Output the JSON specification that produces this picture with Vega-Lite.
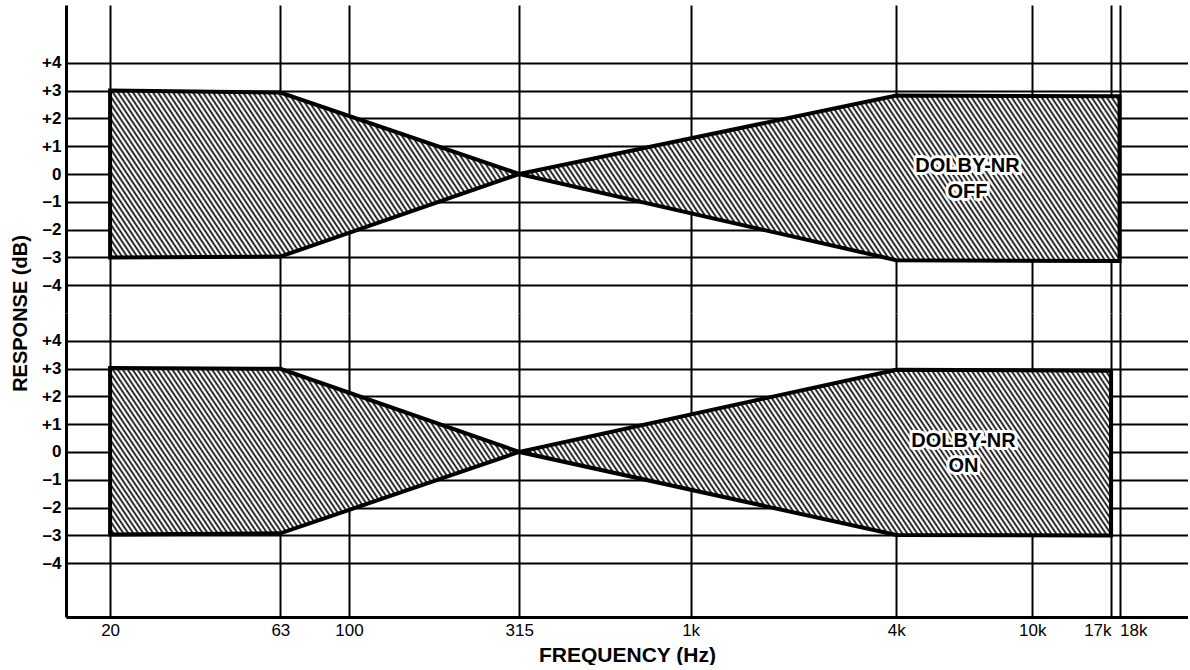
{
  "$schema": "https://vega.github.io/schema/vega-lite/v6.json",
  "padding": {"left": 10, "top": 5, "right": 0, "bottom": 0},
  "background": "white",
  "spacing": 0,
  "bounds": "flush",
  "datasets": {
    "off": [
      {"f": 20, "hi": 3.0, "lo": -3.0},
      {"f": 63, "hi": 2.93, "lo": -2.97},
      {"f": 315, "hi": 0, "lo": 0},
      {"f": 4000, "hi": 2.82, "lo": -3.1},
      {"f": 18000, "hi": 2.8, "lo": -3.13}
    ],
    "on": [
      {"f": 20, "hi": 3.02, "lo": -2.97},
      {"f": 63, "hi": 2.99, "lo": -2.93},
      {"f": 315, "hi": 0, "lo": 0},
      {"f": 4000, "hi": 2.96, "lo": -2.99},
      {"f": 17000, "hi": 2.92, "lo": -3.01}
    ],
    "offText": [
      {"f": 6460, "db": 0.29, "t": "DOLBY-NR"},
      {"f": 6460, "db": -0.63, "t": "OFF"}
    ],
    "onText": [
      {"f": 6290, "db": 0.38, "t": "DOLBY-NR"},
      {"f": 6290, "db": -0.52, "t": "ON"}
    ]
  },
  "vconcat": [
    {
      "width": 1122,
      "height": 308,
      "layer": [
        {
          "data": {"name": "off"},
          "mark": {"type": "area"},
          "encoding": {
            "x": {"field": "f", "type": "quantitative",
              "scale": {"type": "log", "domain": [14.86, 28550], "nice": false},
              "axis": {"values": [20, 63, 100, 315, 1000, 4000, 10000, 17000, 18000], "labels": false, "ticks": false, "domain": false, "title": null}},
            "y": {"field": "hi", "type": "quantitative",
              "scale": {"domain": [-5, 6.08], "nice": false, "zero": false},
              "axis": {"values": [-4, -3, -2, -1, 0, 1, 2, 3, 4],
                "labelExpr": "datum.value > 0 ? '+' + datum.value : (datum.value < 0 ? '\u2013' + abs(datum.value) : '0')",
                "title": "RESPONSE (dB)", "titleX": -46, "titleY": 308, "titleAngle": -90, "titleAlign": "center", "titleBaseline": "middle", "titleFontSize": 20}},
            "y2": {"field": "lo"}
          }
        },
        {
          "data": {"name": "offText"},
          "mark": {"type": "text", "fill": "white", "stroke": "white", "strokeWidth": 6, "strokeJoin": "round", "font": "Liberation Sans", "fontSize": 20, "fontWeight": "bold", "baseline": "middle"},
          "encoding": {
            "x": {"field": "f", "type": "quantitative",
              "axis": {"values": [20, 63, 100, 315, 1000, 4000, 10000, 17000, 18000], "labels": false, "ticks": false, "domain": false, "title": null}},
            "y": {"field": "db", "type": "quantitative",
              "axis": {"values": [-4, -3, -2, -1, 0, 1, 2, 3, 4],
                "labelExpr": "datum.value > 0 ? '+' + datum.value : (datum.value < 0 ? '\u2013' + abs(datum.value) : '0')",
                "title": "RESPONSE (dB)", "titleX": -46, "titleY": 308, "titleAngle": -90, "titleAlign": "center", "titleBaseline": "middle", "titleFontSize": 20}},
            "text": {"field": "t"}
          }
        },
        {
          "data": {"name": "offText"},
          "mark": {"type": "text", "fill": "black", "font": "Liberation Sans", "fontSize": 20, "fontWeight": "bold", "baseline": "middle"},
          "encoding": {
            "x": {"field": "f", "type": "quantitative",
              "axis": {"values": [20, 63, 100, 315, 1000, 4000, 10000, 17000, 18000], "labels": false, "ticks": false, "domain": false, "title": null}},
            "y": {"field": "db", "type": "quantitative",
              "axis": {"values": [-4, -3, -2, -1, 0, 1, 2, 3, 4],
                "labelExpr": "datum.value > 0 ? '+' + datum.value : (datum.value < 0 ? '\u2013' + abs(datum.value) : '0')",
                "title": "RESPONSE (dB)", "titleX": -46, "titleY": 308, "titleAngle": -90, "titleAlign": "center", "titleBaseline": "middle", "titleFontSize": 20}},
            "text": {"field": "t"}
          }
        }
      ]
    },
    {
      "width": 1122,
      "height": 304,
      "layer": [
        {
          "data": {"name": "on"},
          "mark": {"type": "area"},
          "encoding": {
            "x": {"field": "f", "type": "quantitative",
              "scale": {"type": "log", "domain": [14.86, 28550], "nice": false},
              "axis": {"values": [20, 63, 100, 315, 1000, 4000, 10000, 17000, 18000],
                "labelExpr": "datum.value >= 1000 ? (datum.value / 1000) + 'k' : datum.value + ''",
                "labelAlign": {"condition": [{"test": "datum.value == 17000", "value": "right"}, {"test": "datum.value == 18000", "value": "left"}], "value": "center"},
                "labelFlush": false, "labelBound": false,
                "labelPadding": 5, "labelFontWeight": "normal",
                "title": "FREQUENCY (Hz)", "titlePadding": 6, "titleFontSize": 21}},
            "y": {"field": "hi", "type": "quantitative",
              "scale": {"domain": [-5.94, 5], "nice": false, "zero": false},
              "axis": {"values": [-4, -3, -2, -1, 0, 1, 2, 3, 4],
                "labelExpr": "datum.value > 0 ? '+' + datum.value : (datum.value < 0 ? '\u2013' + abs(datum.value) : '0')",
                "title": null}},
            "y2": {"field": "lo"}
          }
        },
        {
          "data": {"name": "onText"},
          "mark": {"type": "text", "fill": "white", "stroke": "white", "strokeWidth": 6, "strokeJoin": "round", "font": "Liberation Sans", "fontSize": 20, "fontWeight": "bold", "baseline": "middle"},
          "encoding": {
            "x": {"field": "f", "type": "quantitative",
              "axis": {"values": [20, 63, 100, 315, 1000, 4000, 10000, 17000, 18000],
                "labelExpr": "datum.value >= 1000 ? (datum.value / 1000) + 'k' : datum.value + ''",
                "labelAlign": {"condition": [{"test": "datum.value == 17000", "value": "right"}, {"test": "datum.value == 18000", "value": "left"}], "value": "center"},
                "labelFlush": false, "labelBound": false,
                "labelPadding": 5, "labelFontWeight": "normal",
                "title": "FREQUENCY (Hz)", "titlePadding": 6, "titleFontSize": 21}},
            "y": {"field": "db", "type": "quantitative",
              "axis": {"values": [-4, -3, -2, -1, 0, 1, 2, 3, 4],
                "labelExpr": "datum.value > 0 ? '+' + datum.value : (datum.value < 0 ? '\u2013' + abs(datum.value) : '0')",
                "title": null}},
            "text": {"field": "t"}
          }
        },
        {
          "data": {"name": "onText"},
          "mark": {"type": "text", "fill": "black", "font": "Liberation Sans", "fontSize": 20, "fontWeight": "bold", "baseline": "middle"},
          "encoding": {
            "x": {"field": "f", "type": "quantitative",
              "axis": {"values": [20, 63, 100, 315, 1000, 4000, 10000, 17000, 18000],
                "labelExpr": "datum.value >= 1000 ? (datum.value / 1000) + 'k' : datum.value + ''",
                "labelAlign": {"condition": [{"test": "datum.value == 17000", "value": "right"}, {"test": "datum.value == 18000", "value": "left"}], "value": "center"},
                "labelFlush": false, "labelBound": false,
                "labelPadding": 5, "labelFontWeight": "normal",
                "title": "FREQUENCY (Hz)", "titlePadding": 6, "titleFontSize": 21}},
            "y": {"field": "db", "type": "quantitative",
              "axis": {"values": [-4, -3, -2, -1, 0, 1, 2, 3, 4],
                "labelExpr": "datum.value > 0 ? '+' + datum.value : (datum.value < 0 ? '\u2013' + abs(datum.value) : '0')",
                "title": null}},
            "text": {"field": "t"}
          }
        }
      ]
    }
  ],
  "resolve": {"scale": {"x": "independent", "y": "independent"}},
  "config": {
    "view": {"stroke": null},
    "axis": {
      "grid": true, "gridColor": "#000", "gridWidth": 2, "gridOpacity": 1,
      "domainColor": "#000", "domainWidth": 3, "ticks": false,
      "labelColor": "#000", "labelFont": "Liberation Sans", "labelFontSize": 17, "labelFontWeight": "bold", "labelPadding": 5,
      "labelOverlap": false,
      "titleFont": "Liberation Sans", "titleColor": "#000", "titleFontWeight": "bold",
      "zindex": 1
    },
    "area": {
      "stroke": "#000", "strokeWidth": 4, "strokeJoin": "miter", "fillOpacity": 1,
      "fill": {"gradient": "linear", "x1": 0, "y1": 1, "x2": 1.2234, "y2": 0.8626, "stops": [
{"offset":0.0000,"color":"#000"},{"offset":0.0016,"color":"#fff"},{"offset":0.0024,"color":"#fff"},{"offset":0.0040,"color":"#000"},{"offset":0.0056,"color":"#fff"},{"offset":0.0064,"color":"#fff"},{"offset":0.0080,"color":"#000"},{"offset":0.0096,"color":"#fff"},{"offset":0.0104,"color":"#fff"},{"offset":0.0120,"color":"#000"},{"offset":0.0136,"color":"#fff"},{"offset":0.0144,"color":"#fff"},{"offset":0.0160,"color":"#000"},{"offset":0.0176,"color":"#fff"},{"offset":0.0184,"color":"#fff"},
{"offset":0.0200,"color":"#000"},{"offset":0.0216,"color":"#fff"},{"offset":0.0224,"color":"#fff"},{"offset":0.0240,"color":"#000"},{"offset":0.0256,"color":"#fff"},{"offset":0.0264,"color":"#fff"},{"offset":0.0280,"color":"#000"},{"offset":0.0296,"color":"#fff"},{"offset":0.0304,"color":"#fff"},{"offset":0.0320,"color":"#000"},{"offset":0.0336,"color":"#fff"},{"offset":0.0344,"color":"#fff"},{"offset":0.0360,"color":"#000"},{"offset":0.0376,"color":"#fff"},{"offset":0.0384,"color":"#fff"},
{"offset":0.0400,"color":"#000"},{"offset":0.0416,"color":"#fff"},{"offset":0.0424,"color":"#fff"},{"offset":0.0440,"color":"#000"},{"offset":0.0456,"color":"#fff"},{"offset":0.0464,"color":"#fff"},{"offset":0.0480,"color":"#000"},{"offset":0.0496,"color":"#fff"},{"offset":0.0504,"color":"#fff"},{"offset":0.0520,"color":"#000"},{"offset":0.0536,"color":"#fff"},{"offset":0.0544,"color":"#fff"},{"offset":0.0560,"color":"#000"},{"offset":0.0576,"color":"#fff"},{"offset":0.0584,"color":"#fff"},
{"offset":0.0600,"color":"#000"},{"offset":0.0616,"color":"#fff"},{"offset":0.0624,"color":"#fff"},{"offset":0.0640,"color":"#000"},{"offset":0.0656,"color":"#fff"},{"offset":0.0664,"color":"#fff"},{"offset":0.0680,"color":"#000"},{"offset":0.0696,"color":"#fff"},{"offset":0.0704,"color":"#fff"},{"offset":0.0720,"color":"#000"},{"offset":0.0736,"color":"#fff"},{"offset":0.0744,"color":"#fff"},{"offset":0.0760,"color":"#000"},{"offset":0.0776,"color":"#fff"},{"offset":0.0784,"color":"#fff"},
{"offset":0.0800,"color":"#000"},{"offset":0.0816,"color":"#fff"},{"offset":0.0824,"color":"#fff"},{"offset":0.0840,"color":"#000"},{"offset":0.0856,"color":"#fff"},{"offset":0.0864,"color":"#fff"},{"offset":0.0880,"color":"#000"},{"offset":0.0896,"color":"#fff"},{"offset":0.0904,"color":"#fff"},{"offset":0.0920,"color":"#000"},{"offset":0.0936,"color":"#fff"},{"offset":0.0944,"color":"#fff"},{"offset":0.0960,"color":"#000"},{"offset":0.0976,"color":"#fff"},{"offset":0.0984,"color":"#fff"},
{"offset":0.1000,"color":"#000"},{"offset":0.1016,"color":"#fff"},{"offset":0.1024,"color":"#fff"},{"offset":0.1040,"color":"#000"},{"offset":0.1056,"color":"#fff"},{"offset":0.1064,"color":"#fff"},{"offset":0.1080,"color":"#000"},{"offset":0.1096,"color":"#fff"},{"offset":0.1104,"color":"#fff"},{"offset":0.1120,"color":"#000"},{"offset":0.1136,"color":"#fff"},{"offset":0.1144,"color":"#fff"},{"offset":0.1160,"color":"#000"},{"offset":0.1176,"color":"#fff"},{"offset":0.1184,"color":"#fff"},
{"offset":0.1200,"color":"#000"},{"offset":0.1216,"color":"#fff"},{"offset":0.1224,"color":"#fff"},{"offset":0.1240,"color":"#000"},{"offset":0.1256,"color":"#fff"},{"offset":0.1264,"color":"#fff"},{"offset":0.1280,"color":"#000"},{"offset":0.1296,"color":"#fff"},{"offset":0.1304,"color":"#fff"},{"offset":0.1320,"color":"#000"},{"offset":0.1336,"color":"#fff"},{"offset":0.1344,"color":"#fff"},{"offset":0.1360,"color":"#000"},{"offset":0.1376,"color":"#fff"},{"offset":0.1384,"color":"#fff"},
{"offset":0.1400,"color":"#000"},{"offset":0.1416,"color":"#fff"},{"offset":0.1424,"color":"#fff"},{"offset":0.1440,"color":"#000"},{"offset":0.1456,"color":"#fff"},{"offset":0.1464,"color":"#fff"},{"offset":0.1480,"color":"#000"},{"offset":0.1496,"color":"#fff"},{"offset":0.1504,"color":"#fff"},{"offset":0.1520,"color":"#000"},{"offset":0.1536,"color":"#fff"},{"offset":0.1544,"color":"#fff"},{"offset":0.1560,"color":"#000"},{"offset":0.1576,"color":"#fff"},{"offset":0.1584,"color":"#fff"},
{"offset":0.1600,"color":"#000"},{"offset":0.1616,"color":"#fff"},{"offset":0.1624,"color":"#fff"},{"offset":0.1640,"color":"#000"},{"offset":0.1656,"color":"#fff"},{"offset":0.1664,"color":"#fff"},{"offset":0.1680,"color":"#000"},{"offset":0.1696,"color":"#fff"},{"offset":0.1704,"color":"#fff"},{"offset":0.1720,"color":"#000"},{"offset":0.1736,"color":"#fff"},{"offset":0.1744,"color":"#fff"},{"offset":0.1760,"color":"#000"},{"offset":0.1776,"color":"#fff"},{"offset":0.1784,"color":"#fff"},
{"offset":0.1800,"color":"#000"},{"offset":0.1816,"color":"#fff"},{"offset":0.1824,"color":"#fff"},{"offset":0.1840,"color":"#000"},{"offset":0.1856,"color":"#fff"},{"offset":0.1864,"color":"#fff"},{"offset":0.1880,"color":"#000"},{"offset":0.1896,"color":"#fff"},{"offset":0.1904,"color":"#fff"},{"offset":0.1920,"color":"#000"},{"offset":0.1936,"color":"#fff"},{"offset":0.1944,"color":"#fff"},{"offset":0.1960,"color":"#000"},{"offset":0.1976,"color":"#fff"},{"offset":0.1984,"color":"#fff"},
{"offset":0.2000,"color":"#000"},{"offset":0.2016,"color":"#fff"},{"offset":0.2024,"color":"#fff"},{"offset":0.2040,"color":"#000"},{"offset":0.2056,"color":"#fff"},{"offset":0.2064,"color":"#fff"},{"offset":0.2080,"color":"#000"},{"offset":0.2096,"color":"#fff"},{"offset":0.2104,"color":"#fff"},{"offset":0.2120,"color":"#000"},{"offset":0.2136,"color":"#fff"},{"offset":0.2144,"color":"#fff"},{"offset":0.2160,"color":"#000"},{"offset":0.2176,"color":"#fff"},{"offset":0.2184,"color":"#fff"},
{"offset":0.2200,"color":"#000"},{"offset":0.2216,"color":"#fff"},{"offset":0.2224,"color":"#fff"},{"offset":0.2240,"color":"#000"},{"offset":0.2256,"color":"#fff"},{"offset":0.2264,"color":"#fff"},{"offset":0.2280,"color":"#000"},{"offset":0.2296,"color":"#fff"},{"offset":0.2304,"color":"#fff"},{"offset":0.2320,"color":"#000"},{"offset":0.2336,"color":"#fff"},{"offset":0.2344,"color":"#fff"},{"offset":0.2360,"color":"#000"},{"offset":0.2376,"color":"#fff"},{"offset":0.2384,"color":"#fff"},
{"offset":0.2400,"color":"#000"},{"offset":0.2416,"color":"#fff"},{"offset":0.2424,"color":"#fff"},{"offset":0.2440,"color":"#000"},{"offset":0.2456,"color":"#fff"},{"offset":0.2464,"color":"#fff"},{"offset":0.2480,"color":"#000"},{"offset":0.2496,"color":"#fff"},{"offset":0.2504,"color":"#fff"},{"offset":0.2520,"color":"#000"},{"offset":0.2536,"color":"#fff"},{"offset":0.2544,"color":"#fff"},{"offset":0.2560,"color":"#000"},{"offset":0.2576,"color":"#fff"},{"offset":0.2584,"color":"#fff"},
{"offset":0.2600,"color":"#000"},{"offset":0.2616,"color":"#fff"},{"offset":0.2624,"color":"#fff"},{"offset":0.2640,"color":"#000"},{"offset":0.2656,"color":"#fff"},{"offset":0.2664,"color":"#fff"},{"offset":0.2680,"color":"#000"},{"offset":0.2696,"color":"#fff"},{"offset":0.2704,"color":"#fff"},{"offset":0.2720,"color":"#000"},{"offset":0.2736,"color":"#fff"},{"offset":0.2744,"color":"#fff"},{"offset":0.2760,"color":"#000"},{"offset":0.2776,"color":"#fff"},{"offset":0.2784,"color":"#fff"},
{"offset":0.2800,"color":"#000"},{"offset":0.2816,"color":"#fff"},{"offset":0.2824,"color":"#fff"},{"offset":0.2840,"color":"#000"},{"offset":0.2856,"color":"#fff"},{"offset":0.2864,"color":"#fff"},{"offset":0.2880,"color":"#000"},{"offset":0.2896,"color":"#fff"},{"offset":0.2904,"color":"#fff"},{"offset":0.2920,"color":"#000"},{"offset":0.2936,"color":"#fff"},{"offset":0.2944,"color":"#fff"},{"offset":0.2960,"color":"#000"},{"offset":0.2976,"color":"#fff"},{"offset":0.2984,"color":"#fff"},
{"offset":0.3000,"color":"#000"},{"offset":0.3016,"color":"#fff"},{"offset":0.3024,"color":"#fff"},{"offset":0.3040,"color":"#000"},{"offset":0.3056,"color":"#fff"},{"offset":0.3064,"color":"#fff"},{"offset":0.3080,"color":"#000"},{"offset":0.3096,"color":"#fff"},{"offset":0.3104,"color":"#fff"},{"offset":0.3120,"color":"#000"},{"offset":0.3136,"color":"#fff"},{"offset":0.3144,"color":"#fff"},{"offset":0.3160,"color":"#000"},{"offset":0.3176,"color":"#fff"},{"offset":0.3184,"color":"#fff"},
{"offset":0.3200,"color":"#000"},{"offset":0.3216,"color":"#fff"},{"offset":0.3224,"color":"#fff"},{"offset":0.3240,"color":"#000"},{"offset":0.3256,"color":"#fff"},{"offset":0.3264,"color":"#fff"},{"offset":0.3280,"color":"#000"},{"offset":0.3296,"color":"#fff"},{"offset":0.3304,"color":"#fff"},{"offset":0.3320,"color":"#000"},{"offset":0.3336,"color":"#fff"},{"offset":0.3344,"color":"#fff"},{"offset":0.3360,"color":"#000"},{"offset":0.3376,"color":"#fff"},{"offset":0.3384,"color":"#fff"},
{"offset":0.3400,"color":"#000"},{"offset":0.3416,"color":"#fff"},{"offset":0.3424,"color":"#fff"},{"offset":0.3440,"color":"#000"},{"offset":0.3456,"color":"#fff"},{"offset":0.3464,"color":"#fff"},{"offset":0.3480,"color":"#000"},{"offset":0.3496,"color":"#fff"},{"offset":0.3504,"color":"#fff"},{"offset":0.3520,"color":"#000"},{"offset":0.3536,"color":"#fff"},{"offset":0.3544,"color":"#fff"},{"offset":0.3560,"color":"#000"},{"offset":0.3576,"color":"#fff"},{"offset":0.3584,"color":"#fff"},
{"offset":0.3600,"color":"#000"},{"offset":0.3616,"color":"#fff"},{"offset":0.3624,"color":"#fff"},{"offset":0.3640,"color":"#000"},{"offset":0.3656,"color":"#fff"},{"offset":0.3664,"color":"#fff"},{"offset":0.3680,"color":"#000"},{"offset":0.3696,"color":"#fff"},{"offset":0.3704,"color":"#fff"},{"offset":0.3720,"color":"#000"},{"offset":0.3736,"color":"#fff"},{"offset":0.3744,"color":"#fff"},{"offset":0.3760,"color":"#000"},{"offset":0.3776,"color":"#fff"},{"offset":0.3784,"color":"#fff"},
{"offset":0.3800,"color":"#000"},{"offset":0.3816,"color":"#fff"},{"offset":0.3824,"color":"#fff"},{"offset":0.3840,"color":"#000"},{"offset":0.3856,"color":"#fff"},{"offset":0.3864,"color":"#fff"},{"offset":0.3880,"color":"#000"},{"offset":0.3896,"color":"#fff"},{"offset":0.3904,"color":"#fff"},{"offset":0.3920,"color":"#000"},{"offset":0.3936,"color":"#fff"},{"offset":0.3944,"color":"#fff"},{"offset":0.3960,"color":"#000"},{"offset":0.3976,"color":"#fff"},{"offset":0.3984,"color":"#fff"},
{"offset":0.4000,"color":"#000"},{"offset":0.4016,"color":"#fff"},{"offset":0.4024,"color":"#fff"},{"offset":0.4040,"color":"#000"},{"offset":0.4056,"color":"#fff"},{"offset":0.4064,"color":"#fff"},{"offset":0.4080,"color":"#000"},{"offset":0.4096,"color":"#fff"},{"offset":0.4104,"color":"#fff"},{"offset":0.4120,"color":"#000"},{"offset":0.4136,"color":"#fff"},{"offset":0.4144,"color":"#fff"},{"offset":0.4160,"color":"#000"},{"offset":0.4176,"color":"#fff"},{"offset":0.4184,"color":"#fff"},
{"offset":0.4200,"color":"#000"},{"offset":0.4216,"color":"#fff"},{"offset":0.4224,"color":"#fff"},{"offset":0.4240,"color":"#000"},{"offset":0.4256,"color":"#fff"},{"offset":0.4264,"color":"#fff"},{"offset":0.4280,"color":"#000"},{"offset":0.4296,"color":"#fff"},{"offset":0.4304,"color":"#fff"},{"offset":0.4320,"color":"#000"},{"offset":0.4336,"color":"#fff"},{"offset":0.4344,"color":"#fff"},{"offset":0.4360,"color":"#000"},{"offset":0.4376,"color":"#fff"},{"offset":0.4384,"color":"#fff"},
{"offset":0.4400,"color":"#000"},{"offset":0.4416,"color":"#fff"},{"offset":0.4424,"color":"#fff"},{"offset":0.4440,"color":"#000"},{"offset":0.4456,"color":"#fff"},{"offset":0.4464,"color":"#fff"},{"offset":0.4480,"color":"#000"},{"offset":0.4496,"color":"#fff"},{"offset":0.4504,"color":"#fff"},{"offset":0.4520,"color":"#000"},{"offset":0.4536,"color":"#fff"},{"offset":0.4544,"color":"#fff"},{"offset":0.4560,"color":"#000"},{"offset":0.4576,"color":"#fff"},{"offset":0.4584,"color":"#fff"},
{"offset":0.4600,"color":"#000"},{"offset":0.4616,"color":"#fff"},{"offset":0.4624,"color":"#fff"},{"offset":0.4640,"color":"#000"},{"offset":0.4656,"color":"#fff"},{"offset":0.4664,"color":"#fff"},{"offset":0.4680,"color":"#000"},{"offset":0.4696,"color":"#fff"},{"offset":0.4704,"color":"#fff"},{"offset":0.4720,"color":"#000"},{"offset":0.4736,"color":"#fff"},{"offset":0.4744,"color":"#fff"},{"offset":0.4760,"color":"#000"},{"offset":0.4776,"color":"#fff"},{"offset":0.4784,"color":"#fff"},
{"offset":0.4800,"color":"#000"},{"offset":0.4816,"color":"#fff"},{"offset":0.4824,"color":"#fff"},{"offset":0.4840,"color":"#000"},{"offset":0.4856,"color":"#fff"},{"offset":0.4864,"color":"#fff"},{"offset":0.4880,"color":"#000"},{"offset":0.4896,"color":"#fff"},{"offset":0.4904,"color":"#fff"},{"offset":0.4920,"color":"#000"},{"offset":0.4936,"color":"#fff"},{"offset":0.4944,"color":"#fff"},{"offset":0.4960,"color":"#000"},{"offset":0.4976,"color":"#fff"},{"offset":0.4984,"color":"#fff"},
{"offset":0.5000,"color":"#000"},{"offset":0.5016,"color":"#fff"},{"offset":0.5024,"color":"#fff"},{"offset":0.5040,"color":"#000"},{"offset":0.5056,"color":"#fff"},{"offset":0.5064,"color":"#fff"},{"offset":0.5080,"color":"#000"},{"offset":0.5096,"color":"#fff"},{"offset":0.5104,"color":"#fff"},{"offset":0.5120,"color":"#000"},{"offset":0.5136,"color":"#fff"},{"offset":0.5144,"color":"#fff"},{"offset":0.5160,"color":"#000"},{"offset":0.5176,"color":"#fff"},{"offset":0.5184,"color":"#fff"},
{"offset":0.5200,"color":"#000"},{"offset":0.5216,"color":"#fff"},{"offset":0.5224,"color":"#fff"},{"offset":0.5240,"color":"#000"},{"offset":0.5256,"color":"#fff"},{"offset":0.5264,"color":"#fff"},{"offset":0.5280,"color":"#000"},{"offset":0.5296,"color":"#fff"},{"offset":0.5304,"color":"#fff"},{"offset":0.5320,"color":"#000"},{"offset":0.5336,"color":"#fff"},{"offset":0.5344,"color":"#fff"},{"offset":0.5360,"color":"#000"},{"offset":0.5376,"color":"#fff"},{"offset":0.5384,"color":"#fff"},
{"offset":0.5400,"color":"#000"},{"offset":0.5416,"color":"#fff"},{"offset":0.5424,"color":"#fff"},{"offset":0.5440,"color":"#000"},{"offset":0.5456,"color":"#fff"},{"offset":0.5464,"color":"#fff"},{"offset":0.5480,"color":"#000"},{"offset":0.5496,"color":"#fff"},{"offset":0.5504,"color":"#fff"},{"offset":0.5520,"color":"#000"},{"offset":0.5536,"color":"#fff"},{"offset":0.5544,"color":"#fff"},{"offset":0.5560,"color":"#000"},{"offset":0.5576,"color":"#fff"},{"offset":0.5584,"color":"#fff"},
{"offset":0.5600,"color":"#000"},{"offset":0.5616,"color":"#fff"},{"offset":0.5624,"color":"#fff"},{"offset":0.5640,"color":"#000"},{"offset":0.5656,"color":"#fff"},{"offset":0.5664,"color":"#fff"},{"offset":0.5680,"color":"#000"},{"offset":0.5696,"color":"#fff"},{"offset":0.5704,"color":"#fff"},{"offset":0.5720,"color":"#000"},{"offset":0.5736,"color":"#fff"},{"offset":0.5744,"color":"#fff"},{"offset":0.5760,"color":"#000"},{"offset":0.5776,"color":"#fff"},{"offset":0.5784,"color":"#fff"},
{"offset":0.5800,"color":"#000"},{"offset":0.5816,"color":"#fff"},{"offset":0.5824,"color":"#fff"},{"offset":0.5840,"color":"#000"},{"offset":0.5856,"color":"#fff"},{"offset":0.5864,"color":"#fff"},{"offset":0.5880,"color":"#000"},{"offset":0.5896,"color":"#fff"},{"offset":0.5904,"color":"#fff"},{"offset":0.5920,"color":"#000"},{"offset":0.5936,"color":"#fff"},{"offset":0.5944,"color":"#fff"},{"offset":0.5960,"color":"#000"},{"offset":0.5976,"color":"#fff"},{"offset":0.5984,"color":"#fff"},
{"offset":0.6000,"color":"#000"},{"offset":0.6016,"color":"#fff"},{"offset":0.6024,"color":"#fff"},{"offset":0.6040,"color":"#000"},{"offset":0.6056,"color":"#fff"},{"offset":0.6064,"color":"#fff"},{"offset":0.6080,"color":"#000"},{"offset":0.6096,"color":"#fff"},{"offset":0.6104,"color":"#fff"},{"offset":0.6120,"color":"#000"},{"offset":0.6136,"color":"#fff"},{"offset":0.6144,"color":"#fff"},{"offset":0.6160,"color":"#000"},{"offset":0.6176,"color":"#fff"},{"offset":0.6184,"color":"#fff"},
{"offset":0.6200,"color":"#000"},{"offset":0.6216,"color":"#fff"},{"offset":0.6224,"color":"#fff"},{"offset":0.6240,"color":"#000"},{"offset":0.6256,"color":"#fff"},{"offset":0.6264,"color":"#fff"},{"offset":0.6280,"color":"#000"},{"offset":0.6296,"color":"#fff"},{"offset":0.6304,"color":"#fff"},{"offset":0.6320,"color":"#000"},{"offset":0.6336,"color":"#fff"},{"offset":0.6344,"color":"#fff"},{"offset":0.6360,"color":"#000"},{"offset":0.6376,"color":"#fff"},{"offset":0.6384,"color":"#fff"},
{"offset":0.6400,"color":"#000"},{"offset":0.6416,"color":"#fff"},{"offset":0.6424,"color":"#fff"},{"offset":0.6440,"color":"#000"},{"offset":0.6456,"color":"#fff"},{"offset":0.6464,"color":"#fff"},{"offset":0.6480,"color":"#000"},{"offset":0.6496,"color":"#fff"},{"offset":0.6504,"color":"#fff"},{"offset":0.6520,"color":"#000"},{"offset":0.6536,"color":"#fff"},{"offset":0.6544,"color":"#fff"},{"offset":0.6560,"color":"#000"},{"offset":0.6576,"color":"#fff"},{"offset":0.6584,"color":"#fff"},
{"offset":0.6600,"color":"#000"},{"offset":0.6616,"color":"#fff"},{"offset":0.6624,"color":"#fff"},{"offset":0.6640,"color":"#000"},{"offset":0.6656,"color":"#fff"},{"offset":0.6664,"color":"#fff"},{"offset":0.6680,"color":"#000"},{"offset":0.6696,"color":"#fff"},{"offset":0.6704,"color":"#fff"},{"offset":0.6720,"color":"#000"},{"offset":0.6736,"color":"#fff"},{"offset":0.6744,"color":"#fff"},{"offset":0.6760,"color":"#000"},{"offset":0.6776,"color":"#fff"},{"offset":0.6784,"color":"#fff"},
{"offset":0.6800,"color":"#000"},{"offset":0.6816,"color":"#fff"},{"offset":0.6824,"color":"#fff"},{"offset":0.6840,"color":"#000"},{"offset":0.6856,"color":"#fff"},{"offset":0.6864,"color":"#fff"},{"offset":0.6880,"color":"#000"},{"offset":0.6896,"color":"#fff"},{"offset":0.6904,"color":"#fff"},{"offset":0.6920,"color":"#000"},{"offset":0.6936,"color":"#fff"},{"offset":0.6944,"color":"#fff"},{"offset":0.6960,"color":"#000"},{"offset":0.6976,"color":"#fff"},{"offset":0.6984,"color":"#fff"},
{"offset":0.7000,"color":"#000"},{"offset":0.7016,"color":"#fff"},{"offset":0.7024,"color":"#fff"},{"offset":0.7040,"color":"#000"},{"offset":0.7056,"color":"#fff"},{"offset":0.7064,"color":"#fff"},{"offset":0.7080,"color":"#000"},{"offset":0.7096,"color":"#fff"},{"offset":0.7104,"color":"#fff"},{"offset":0.7120,"color":"#000"},{"offset":0.7136,"color":"#fff"},{"offset":0.7144,"color":"#fff"},{"offset":0.7160,"color":"#000"},{"offset":0.7176,"color":"#fff"},{"offset":0.7184,"color":"#fff"},
{"offset":0.7200,"color":"#000"},{"offset":0.7216,"color":"#fff"},{"offset":0.7224,"color":"#fff"},{"offset":0.7240,"color":"#000"},{"offset":0.7256,"color":"#fff"},{"offset":0.7264,"color":"#fff"},{"offset":0.7280,"color":"#000"},{"offset":0.7296,"color":"#fff"},{"offset":0.7304,"color":"#fff"},{"offset":0.7320,"color":"#000"},{"offset":0.7336,"color":"#fff"},{"offset":0.7344,"color":"#fff"},{"offset":0.7360,"color":"#000"},{"offset":0.7376,"color":"#fff"},{"offset":0.7384,"color":"#fff"},
{"offset":0.7400,"color":"#000"},{"offset":0.7416,"color":"#fff"},{"offset":0.7424,"color":"#fff"},{"offset":0.7440,"color":"#000"},{"offset":0.7456,"color":"#fff"},{"offset":0.7464,"color":"#fff"},{"offset":0.7480,"color":"#000"},{"offset":0.7496,"color":"#fff"},{"offset":0.7504,"color":"#fff"},{"offset":0.7520,"color":"#000"},{"offset":0.7536,"color":"#fff"},{"offset":0.7544,"color":"#fff"},{"offset":0.7560,"color":"#000"},{"offset":0.7576,"color":"#fff"},{"offset":0.7584,"color":"#fff"},
{"offset":0.7600,"color":"#000"},{"offset":0.7616,"color":"#fff"},{"offset":0.7624,"color":"#fff"},{"offset":0.7640,"color":"#000"},{"offset":0.7656,"color":"#fff"},{"offset":0.7664,"color":"#fff"},{"offset":0.7680,"color":"#000"},{"offset":0.7696,"color":"#fff"},{"offset":0.7704,"color":"#fff"},{"offset":0.7720,"color":"#000"},{"offset":0.7736,"color":"#fff"},{"offset":0.7744,"color":"#fff"},{"offset":0.7760,"color":"#000"},{"offset":0.7776,"color":"#fff"},{"offset":0.7784,"color":"#fff"},
{"offset":0.7800,"color":"#000"},{"offset":0.7816,"color":"#fff"},{"offset":0.7824,"color":"#fff"},{"offset":0.7840,"color":"#000"},{"offset":0.7856,"color":"#fff"},{"offset":0.7864,"color":"#fff"},{"offset":0.7880,"color":"#000"},{"offset":0.7896,"color":"#fff"},{"offset":0.7904,"color":"#fff"},{"offset":0.7920,"color":"#000"},{"offset":0.7936,"color":"#fff"},{"offset":0.7944,"color":"#fff"},{"offset":0.7960,"color":"#000"},{"offset":0.7976,"color":"#fff"},{"offset":0.7984,"color":"#fff"},
{"offset":0.8000,"color":"#000"},{"offset":0.8016,"color":"#fff"},{"offset":0.8024,"color":"#fff"},{"offset":0.8040,"color":"#000"},{"offset":0.8056,"color":"#fff"},{"offset":0.8064,"color":"#fff"},{"offset":0.8080,"color":"#000"},{"offset":0.8096,"color":"#fff"},{"offset":0.8104,"color":"#fff"},{"offset":0.8120,"color":"#000"},{"offset":0.8136,"color":"#fff"},{"offset":0.8144,"color":"#fff"},{"offset":0.8160,"color":"#000"},{"offset":0.8176,"color":"#fff"},{"offset":0.8184,"color":"#fff"},
{"offset":0.8200,"color":"#000"},{"offset":0.8216,"color":"#fff"},{"offset":0.8224,"color":"#fff"},{"offset":0.8240,"color":"#000"},{"offset":0.8256,"color":"#fff"},{"offset":0.8264,"color":"#fff"},{"offset":0.8280,"color":"#000"},{"offset":0.8296,"color":"#fff"},{"offset":0.8304,"color":"#fff"},{"offset":0.8320,"color":"#000"},{"offset":0.8336,"color":"#fff"},{"offset":0.8344,"color":"#fff"},{"offset":0.8360,"color":"#000"},{"offset":0.8376,"color":"#fff"},{"offset":0.8384,"color":"#fff"},
{"offset":0.8400,"color":"#000"},{"offset":0.8416,"color":"#fff"},{"offset":0.8424,"color":"#fff"},{"offset":0.8440,"color":"#000"},{"offset":0.8456,"color":"#fff"},{"offset":0.8464,"color":"#fff"},{"offset":0.8480,"color":"#000"},{"offset":0.8496,"color":"#fff"},{"offset":0.8504,"color":"#fff"},{"offset":0.8520,"color":"#000"},{"offset":0.8536,"color":"#fff"},{"offset":0.8544,"color":"#fff"},{"offset":0.8560,"color":"#000"},{"offset":0.8576,"color":"#fff"},{"offset":0.8584,"color":"#fff"},
{"offset":0.8600,"color":"#000"},{"offset":0.8616,"color":"#fff"},{"offset":0.8624,"color":"#fff"},{"offset":0.8640,"color":"#000"},{"offset":0.8656,"color":"#fff"},{"offset":0.8664,"color":"#fff"},{"offset":0.8680,"color":"#000"},{"offset":0.8696,"color":"#fff"},{"offset":0.8704,"color":"#fff"},{"offset":0.8720,"color":"#000"},{"offset":0.8736,"color":"#fff"},{"offset":0.8744,"color":"#fff"},{"offset":0.8760,"color":"#000"},{"offset":0.8776,"color":"#fff"},{"offset":0.8784,"color":"#fff"},
{"offset":0.8800,"color":"#000"},{"offset":0.8816,"color":"#fff"},{"offset":0.8824,"color":"#fff"},{"offset":0.8840,"color":"#000"},{"offset":0.8856,"color":"#fff"},{"offset":0.8864,"color":"#fff"},{"offset":0.8880,"color":"#000"},{"offset":0.8896,"color":"#fff"},{"offset":0.8904,"color":"#fff"},{"offset":0.8920,"color":"#000"},{"offset":0.8936,"color":"#fff"},{"offset":0.8944,"color":"#fff"},{"offset":0.8960,"color":"#000"},{"offset":0.8976,"color":"#fff"},{"offset":0.8984,"color":"#fff"},
{"offset":0.9000,"color":"#000"},{"offset":0.9016,"color":"#fff"},{"offset":0.9024,"color":"#fff"},{"offset":0.9040,"color":"#000"},{"offset":0.9056,"color":"#fff"},{"offset":0.9064,"color":"#fff"},{"offset":0.9080,"color":"#000"},{"offset":0.9096,"color":"#fff"},{"offset":0.9104,"color":"#fff"},{"offset":0.9120,"color":"#000"},{"offset":0.9136,"color":"#fff"},{"offset":0.9144,"color":"#fff"},{"offset":0.9160,"color":"#000"},{"offset":0.9176,"color":"#fff"},{"offset":0.9184,"color":"#fff"}
      ]}
    },
    "text": {"color": "#000"}
  }
}
